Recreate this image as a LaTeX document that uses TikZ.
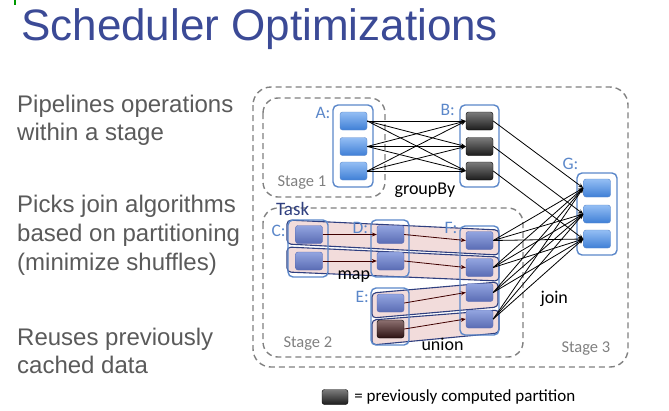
\documentclass[tikz,border=0pt]{standalone}
\usepackage{fontspec}
\setmainfont{Liberation Sans}
\newfontfamily\labelfont{Carlito}
\usetikzlibrary{arrows.meta}
\definecolor{titleblue}{HTML}{3B4A96}
\definecolor{textgray}{HTML}{5A5A5A}
\definecolor{stagegray}{HTML}{808080}
\definecolor{grpblue}{HTML}{5B87C9}
\definecolor{bandfill}{HTML}{F2DCDB}
\definecolor{bandline}{HTML}{2F3F7F}
\definecolor{bluetop}{HTML}{94BEF4}
\definecolor{bluebot}{HTML}{3F7FD6}
\definecolor{maptop}{HTML}{93A5E0}
\definecolor{mapbot}{HTML}{5A6CB4}
\definecolor{donetop}{HTML}{7C7C7C}
\definecolor{donebot}{HTML}{1C1C1C}
\definecolor{cachetop}{HTML}{8C7070}
\definecolor{cachebot}{HTML}{2E1212}
\tikzset{
  stagebox/.style={draw=stagegray, line width=1.4pt, dash pattern=on 6pt off 4pt, rounded corners=18pt},
  stagelabel/.style={text=stagegray, font=\labelfont\fontsize{16.5}{16.5}\selectfont, anchor=base west},
  grpbox/.style={draw=grpblue, line width=1.4pt, rounded corners=5pt},
  grplabel/.style={text=grpblue, font=\labelfont\fontsize{17.5}{17.5}\selectfont, anchor=base west},
  part/.style={draw=#1, line width=0.4pt, rounded corners=2.5pt, minimum width=27pt, minimum height=18pt, inner sep=0pt},
  bluepart/.style={part=grpblue, top color=bluetop, bottom color=bluebot},
  mappart/.style={part=mapbot, top color=maptop, bottom color=mapbot},
  donepart/.style={part=black, top color=donetop, bottom color=donebot},
  cachepart/.style={part=black, top color=cachetop, bottom color=cachebot},
  taskband/.style={fill=bandfill, draw=bandline, line width=1.1pt, rounded corners=4pt},
  opname/.style={font=\labelfont\fontsize{18}{18}\selectfont, anchor=base west},
  bullet/.style={text=textgray, font=\fontsize{24}{29}\selectfont, anchor=base west, inner sep=0pt},
  link/.style={line width=0.8pt, -{Stealth[length=5pt,width=4pt]}},
  maplink/.style={link, draw=red!25!black}
}
\begin{document}
\begin{tikzpicture}[x=1pt,y=-1pt]
\useasboundingbox (0,0) rectangle (669,410);
\draw[green!60!black, line width=1.2pt] (15,0) -- (15,5);
\node[text=titleblue, font=\fontsize{44}{44}\selectfont, anchor=base west, inner sep=0pt] (title) at (21,40) {Scheduler Optimizations};
\node[bullet] (pipe1) at (17,112) {Pipelines operations};
\node[bullet] (pipe2) at (17,140) {within a stage};
\node[bullet] (join1) at (17,212) {Picks join algorithms};
\node[bullet] (join2) at (17,241) {based on partitioning};
\node[bullet] (join3) at (17,270) {(minimize shuffles)};
\node[bullet] (reuse1) at (17,345) {Reuses previously};
\node[bullet] (reuse2) at (17,373) {cached data};

\draw[stagebox] (253,87) rectangle (628,367);
\draw[stagebox, rounded corners=15pt] (263,98) rectangle (385,197);
\draw[stagebox, rounded corners=15pt] (263,208) rectangle (523,357);
\node[stagelabel] (stage1) at (274,186) {Stage 1};
\node[stagelabel] (stage2) at (280,347) {Stage 2};
\node[stagelabel] (stage3) at (558,352) {Stage 3};

\draw[taskband] (287,220) -- (499,230) -- (499,255) -- (287,244) -- cycle;
\draw[taskband] (287,247) -- (499,257) -- (499,281) -- (287,272) -- cycle;
\draw[taskband] (372,293) -- (498,282) -- (498,307) -- (372,318) -- cycle;
\draw[taskband] (372,320) -- (499,310) -- (499,333) -- (372,345) -- cycle;
\node[text=bandline, font=\labelfont\fontsize{19}{19}\selectfont, anchor=base west, inner sep=0pt] (task) at (276,215) {Task};

\draw[grpbox] (333,105) rectangle (373,187);
\draw[grpbox] (460,105) rectangle (499,187);
\draw[grpbox] (577,173) rectangle (617,255);
\draw[grpbox] (288,220) rectangle (328,277);
\draw[grpbox] (371,220) rectangle (409,277);
\draw[grpbox] (371,288) rectangle (409,345);
\draw[grpbox] (460,226) rectangle (499,335);
\node[grplabel] (labA) at (312,118) {A:};
\node[grplabel] (labB) at (437,115) {B:};
\node[grplabel] (labG) at (559,169) {G:};
\node[grplabel] (labC) at (268,236) {C:};
\node[grplabel] (labD) at (349,233) {D:};
\node[grplabel] (labE) at (352,302) {E:};
\node[grplabel] (labF) at (441,233) {F:};

\foreach \i/\y in {1/121,2/146.5,3/171} {
  \node[bluepart] (a\i) at (353.5,\y) {};
  \node[donepart] (b\i) at (479.5,\y) {};
}
\foreach \i/\y in {1/188,2/214,3/239}
  \node[bluepart] (g\i) at (597,\y) {};
\foreach \i/\y in {1/234.5,2/261} {
  \node[mappart] (c\i) at (309,\y) {};
  \node[mappart] (d\i) at (390.5,\y) {};
}
\node[mappart] (e1) at (390.5,303) {};
\node[cachepart] (e2) at (390.5,329) {};
\foreach \i/\y in {1/240.5,2/267.5,3/292.5,4/319}
  \node[mappart] (f\i) at (479.5,\y) {};

\foreach \i in {1,2,3}
  \foreach \j in {1,2,3}
    \draw[link] (a\i.east) -- (b\j.west);
\foreach \i in {1,2,3}
  \draw[link] (b\i.east) -- (g\i.west);
\foreach \i in {1,2,3,4}
  \foreach \j in {1,2,3}
    \draw[link] (f\i.east) -- (g\j.west);
\foreach \i in {1,2} {
  \draw[maplink] (c\i.east) -- (d\i.west);
  \draw[maplink] (d\i.east) -- (f\i.west);
}
\draw[maplink] (e1.east) -- (f3.west);
\draw[maplink] (e2.east) -- (f4.west);

\node[opname] (groupby) at (391,194) {groupBy};
\node[opname] (map) at (334,279) {map};
\node[opname] (join) at (537,303) {join};
\node[opname] (union) at (418,350) {union};

\node[donepart, minimum width=26pt, minimum height=15pt] (legbox) at (335,397) {};
\node[font=\labelfont\fontsize{17}{17}\selectfont, anchor=west, inner sep=0pt] (legend) at ([xshift=6pt]legbox.east) {= previously computed partition};
\end{tikzpicture}
\end{document}
